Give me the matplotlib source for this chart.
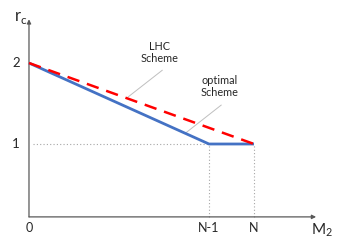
import matplotlib
matplotlib.use("Agg")
import matplotlib.pyplot as plt

plt.rcParams['font.family'] = ['Lato', 'DejaVu Sans']

# data (N-1 -> 4, N -> 5 on a schematic axis)
x_opt = [0, 4, 5]
y_opt = [2, 1, 1]
x_lhc = [0, 5]
y_lhc = [2, 1]
x_ticks = [0, 4, 5]
x_labels = ['0', 'N-1', 'N']
y_ticks = [2, 1]
y_labels = ['2', '1']

fig = plt.figure(figsize=(3.46, 2.42), dpi=100)
ax = fig.add_axes([0, 0, 1, 1])
ax.set_xlim(-0.644, 7.044)
ax.set_ylim(-0.210, 2.778)
ax.axis('off')

y0 = 0.10
axis_col = '#595959'
# axes with arrows
ax.annotate('', xy=(6.38, y0), xytext=(0, y0),
            arrowprops=dict(arrowstyle='-|>', color=axis_col, lw=0.9,
                            mutation_scale=6, shrinkA=0, shrinkB=0))
ax.annotate('', xy=(0, 2.54), xytext=(0, y0),
            arrowprops=dict(arrowstyle='-|>', color=axis_col, lw=0.9,
                            mutation_scale=6, shrinkA=0, shrinkB=0))

# dotted guides
guide = dict(color='#a6a6a6', lw=0.8, ls=(0, (1, 2)))
ax.plot([0.08, x_opt[1]], [1, 1], **guide)
ax.plot([x_opt[1], x_opt[1]], [y0, 1], **guide)
ax.plot([x_opt[2], x_opt[2]], [y0, 1], **guide)

# lines
ax.plot(x_opt, y_opt, color='#4472C4', lw=2.0, solid_capstyle='butt', zorder=3)
ax.plot(x_lhc, y_lhc, color='#FF0000', lw=1.8, ls=(0, (5, 3.2)), zorder=4)

# tick labels
for xt, lab in zip(x_ticks, x_labels):
    ax.text(xt, y0 - 0.06, lab, ha='center', va='top', fontsize=9, color='#262626')
for yt, lab in zip(y_ticks, y_labels):
    ax.text(-0.20, yt, lab, ha='right', va='center', fontsize=9.5, color='#262626')

# axis labels
ax.text(-0.33, 2.55, r'r$_\mathregular{c}$', ha='left', va='center', fontsize=12, color='#262626')
ax.text(6.26, -0.06, r'M$_\mathregular{2}$', ha='left', va='center', fontsize=11, color='#262626')

# annotations
ax.text(2.91, 2.13, 'LHC\nScheme', ha='center', va='center', fontsize=7.8,
        color='#262626', linespacing=1.2)
ax.plot([2.96, 2.20], [1.91, 1.58], color='#bfbfbf', lw=0.7)
ax.text(4.24, 1.71, 'optimal\nScheme', ha='center', va='center', fontsize=7.8,
        color='#262626', linespacing=1.2)
ax.plot([4.27, 3.49], [1.48, 1.14], color='#bfbfbf', lw=0.7)

fig.savefig('out.png', dpi=100)
